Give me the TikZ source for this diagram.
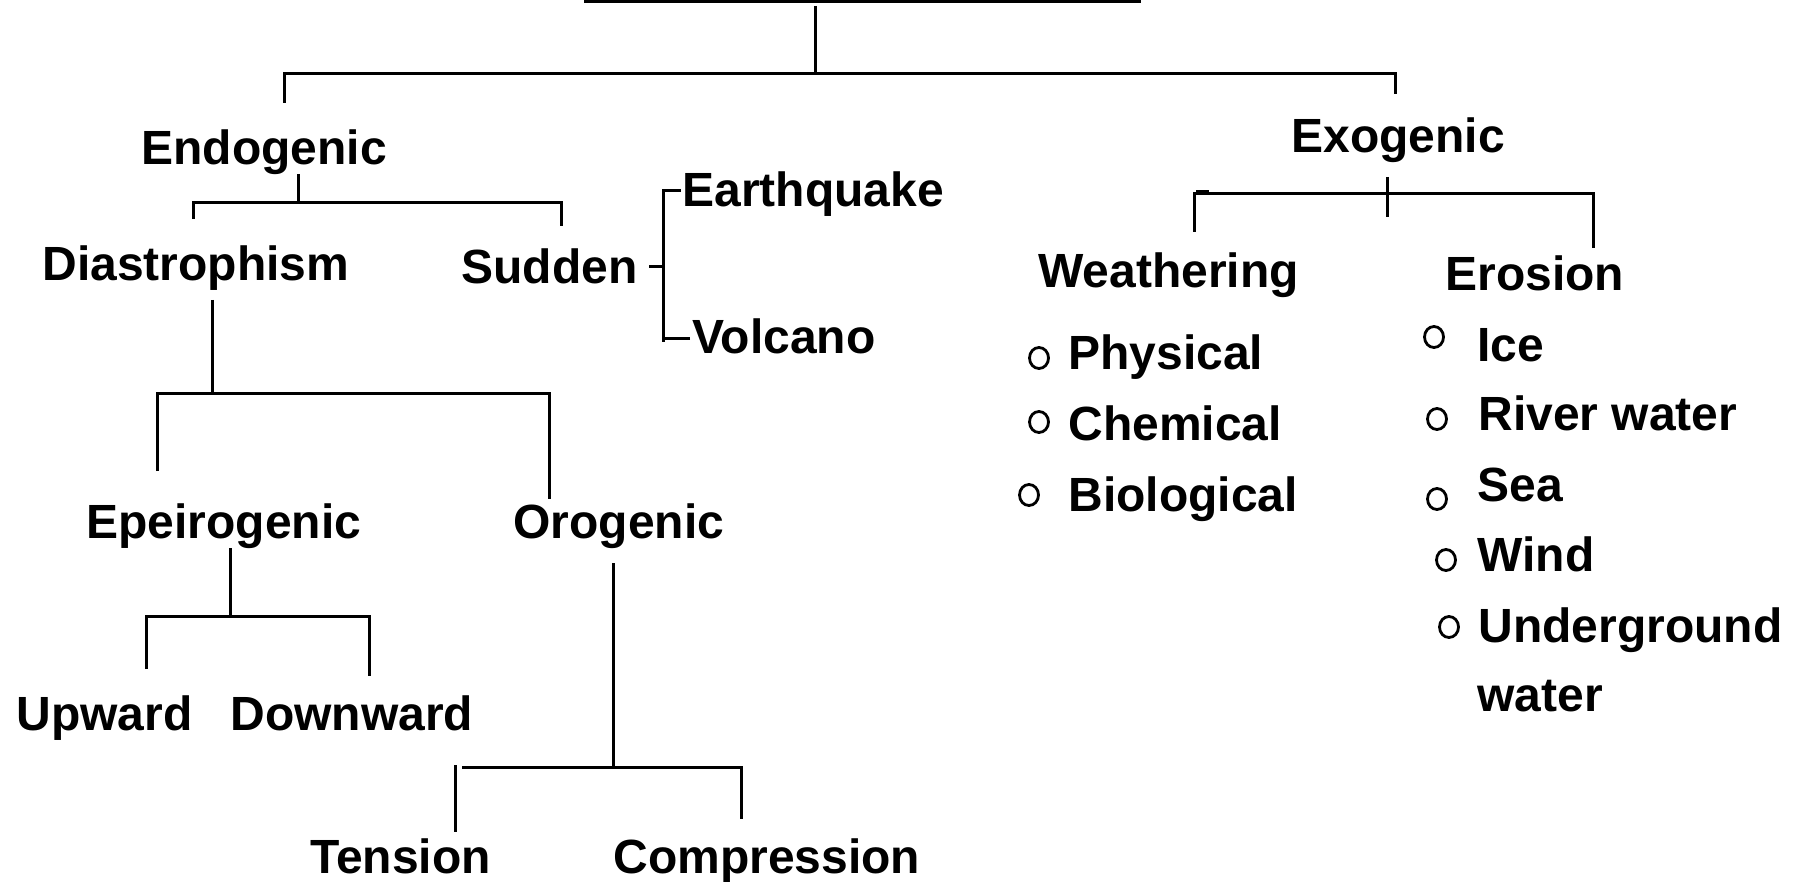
\documentclass[tikz,border=0pt]{standalone}
\usepackage{fontspec}
\setmainfont{Liberation Sans}
\tikzset{
  lbl/.style={anchor=base west, inner sep=0pt, font=\fontsize{24}{29}\selectfont\bfseries},
  conn/.style={line width=1.5pt, line cap=butt},
  bul/.style={line width=1.4pt},
}
\begin{document}
\begin{tikzpicture}[x=0.5pt,y=-0.5pt]
\useasboundingbox[fill=white] (0,0) rectangle (1804,882);
% ---- text nodes ----
\node[lbl] (endo)  at (141,165) {Endogenic};
\node[lbl] (dias)  at (42,280) {Diastrophism};
\node[lbl] (sud)   at (461,284) {Sudden};
\node[lbl] (eq)    at (682,207) {Earthquake};
\node[lbl] (vol)   at (692,353) {Volcano};
\node[lbl] (epe)   at (86,538) {Epeirogenic};
\node[lbl] (oro)   at (513,538) {Orogenic};
\node[lbl] (up)    at (16,730) {Upward};
\node[lbl] (down)  at (230,730) {Downward};
\node[lbl] (ten)   at (310,873) {Tension};
\node[lbl] (comp)  at (613,873) {Compression};
\node[lbl] (exo)   at (1291,153) {Exogenic};
\node[lbl] (wea)   at (1038,287) {Weathering};
\node[lbl] (ero)   at (1445,291) {Erosion};
\node[lbl] (phy)   at (1068,369) {Physical};
\node[lbl] (che)   at (1068,440) {Chemical};
\node[lbl] (bio)   at (1068,511) {Biological};
\node[lbl] (ice)   at (1477,361) {Ice};
\node[lbl] (riv)   at (1478,430) {River water};
\node[lbl] (sea)   at (1477,501) {Sea};
\node[lbl] (wind)  at (1477,571) {Wind};
\node[lbl] (und)   at (1478,642) {Underground};
\node[lbl] (undw)  at (1477,711) {water};
% ---- bullets ----
\foreach \n/\x/\y in {bphy/1039/358, bche/1039/422, bbio/1029/495,
                      bice/1434/337, briv/1437/419, bsea/1437/499,
                      bwind/1446/560, bund/1449/627}{
  \coordinate (\n) at (\x,\y);
  \draw[bul] (\n) ellipse [x radius=9.5, y radius=10.5];
}
% ---- connector points ----
\coordinate (topL) at (584,2);   \coordinate (topR) at (1141,2);
\coordinate (root) at (815,6);   \coordinate (rootJ) at (815,74);
\coordinate (endoT) at (284,103); \coordinate (exoT) at (1395,94);
\coordinate (endoB) at (298,174); \coordinate (endoJ) at (298,203);
\coordinate (diasT) at (193,219); \coordinate (sudT) at (561,226);
\coordinate (sudR) at (649,267); \coordinate (sudJ) at (663,267);
\coordinate (eqL) at (681,191);  \coordinate (volL) at (690,338);
\coordinate (brB) at (663,342);
\coordinate (diasB) at (212,300); \coordinate (diasJ) at (212,393);
\coordinate (epeT) at (157,471); \coordinate (oroT) at (549,499);
\coordinate (epeB) at (230,548); \coordinate (epeJ) at (230,616);
\coordinate (upT) at (146,669);  \coordinate (downT) at (369,676);
\coordinate (oroB) at (613,563); \coordinate (oroJ) at (613,767);
\coordinate (tenT) at (455,832); \coordinate (tenJ) at (455,765);
\coordinate (hL) at (462,767);   \coordinate (compT) at (741,819);
\coordinate (exoB) at (1387,177); \coordinate (exoJ) at (1387,217);
\coordinate (exoH) at (1387,194);
\coordinate (weaT) at (1194,232); \coordinate (eroT) at (1593,248);
% ---- connectors ----
\draw[conn] (topL) -- (topR);
\draw[conn] (root) -- (rootJ);
\draw[conn] (endoT) -- (endoT |- rootJ) -- (exoT |- rootJ) -- (exoT);
\draw[conn] (endoB) -- (endoJ);
\draw[conn] (diasT) -- (diasT |- endoJ) -- (sudT |- endoJ) -- (sudT);
\draw[conn] (sudR) -- (sudJ);
\draw[conn] (eqL) -| (brB);
\draw[conn] (volL) -| (brB);
\draw[conn] (diasB) -- (diasJ);
\draw[conn] (epeT) -- (epeT |- diasJ) -- (oroT |- diasJ) -- (oroT);
\draw[conn] (epeB) -- (epeJ);
\draw[conn] (upT) -- (upT |- epeJ) -- (downT |- epeJ) -- (downT);
\draw[conn] (oroB) -- (oroJ);
\draw[conn] (tenJ) -- (tenT);
\draw[conn] (hL) -| (compT);
\draw[conn] (exoB) -- (exoJ);
\draw[conn] (weaT) -- (weaT |- exoH) -- (eroT |- exoH) -- (eroT);
\fill (1196,190) rectangle (1209,194);
\end{tikzpicture}
\end{document}
